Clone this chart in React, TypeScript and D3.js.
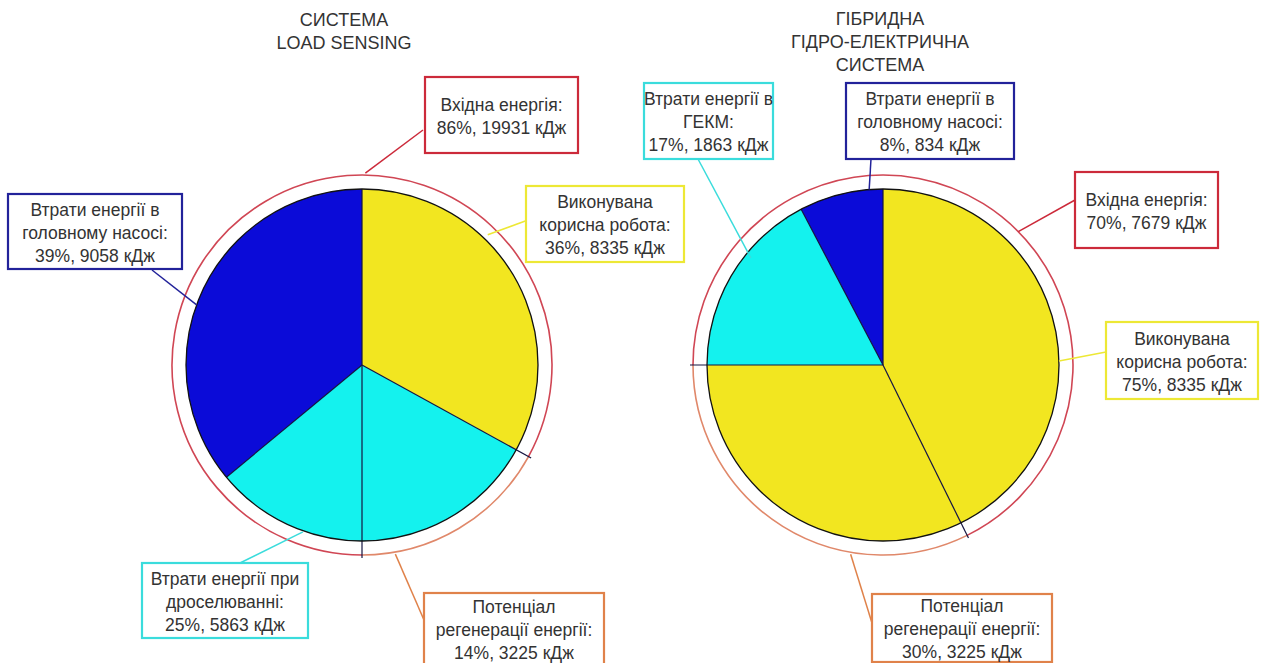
import * as d3 from "d3";

// slice order: clockwise from 12 o'clock
const leftNames = ["Виконувана корисна робота", "Потенціал регенерації", "Втрати при дроселюванні", "Втрати в головному насосі"];
const leftShares = [33, 17, 14, 36];
const leftColors = ["#F2E620", "#14F2EE", "#14F2EE", "#0B0BD8"];
const leftRegen = 1;

const rightNames = ["Виконувана корисна робота", "Потенціал регенерації", "Втрати в ГЕКМ", "Втрати в головному насосі"];
const rightShares = [42.7, 32.3, 17.3, 7.7];
const rightColors = ["#F2E620", "#F2E620", "#14F2EE", "#0B0BD8"];
const rightRegen = 1;

const leftTitle = ["СИСТЕМА", "LOAD SENSING"];
const rightTitle = ["ГІБРИДНА", "ГІДРО-ЕЛЕКТРИЧНА", "СИСТЕМА"];

const leftCallouts = [
  { lines: ["Вхідна енергія:", "86%, 19931 кДж"], color: "#CC2A3A" },
  { lines: ["Виконувана", "корисна робота:", "36%, 8335 кДж"], color: "#EDE835" },
  { lines: ["Втрати енергії в", "головному насосі:", "39%, 9058 кДж"], color: "#22229A" },
  { lines: ["Втрати енергії при", "дроселюванні:", "25%, 5863 кДж"], color: "#3ADCDC" },
  { lines: ["Потенціал", "регенерації енергії:", "14%, 3225 кДж"], color: "#E0824A" },
];
const rightCallouts = [
  { lines: ["Втрати енергії в", "ГЕКМ:", "17%, 1863 кДж"], color: "#3ADCDC" },
  { lines: ["Втрати енергії в", "головному насосі:", "8%, 834 кДж"], color: "#22229A" },
  { lines: ["Вхідна енергія:", "70%, 7679 кДж"], color: "#CC2A3A" },
  { lines: ["Виконувана", "корисна робота:", "75%, 8335 кДж"], color: "#EDE835" },
  { lines: ["Потенціал", "регенерації енергії:", "30%, 3225 кДж"], color: "#E0824A" },
];

// layout: box rect + leader (from box point to polar anchor on pie)
const leftLayout = [
  { box: [425, 77, 153, 76], from: [423, 130], ang: 1, r: 192 },
  { box: [526, 186, 158, 76], from: [528, 220], ang: 44, r: 181 },
  { box: [8, 194, 174, 75], from: [152, 270], ang: 290, r: 176 },
  { box: [142, 563, 166, 75], from: [240, 563], ang: 199.5, r: 177 },
  { box: [424, 593, 180, 72], from: [424, 620], ang: 170, r: 192 },
];
const rightLayout = [
  { box: [644, 83, 129, 76], from: [698, 159], ang: 309, r: 170 },
  { box: [846, 83, 168, 76], from: [871, 159], ang: 355.5, r: 176 },
  { box: [1075, 172, 143, 76], from: [1075, 200], ang: 45.4, r: 190 },
  { box: [1106, 322, 152, 77], from: [1106, 352], ang: 88.7, r: 176 },
  { box: [872, 594, 180, 68], from: [872, 623], ang: 189.7, r: 192 },
];

const R = 176;
const RING = 190;
const FONT = "'Liberation Sans', Arial, sans-serif";

const polar = (cx: number, cy: number, deg: number, r: number) => {
  const a = (deg * Math.PI) / 180;
  return [cx + r * Math.sin(a), cy - r * Math.cos(a)];
};

type PieProps = {
  cx: number;
  cy: number;
  names: string[];
  shares: number[];
  colors: string[];
  regen: number;
};

const Pie = ({ cx, cy, names, shares, colors, regen }: PieProps) => {
  const slices = d3
    .pie<number>()
    .sort(null)
    .value((d) => d)(shares);
  const arc = d3.arc<d3.PieArcDatum<number>>().innerRadius(0).outerRadius(R);
  const ringArc = d3.arc().innerRadius(RING).outerRadius(RING);
  const rs = slices[regen];

  // boundaries of the regeneration slice extend to the outer ring
  const bounds = slices.map((s) => s.startAngle);
  const long = new Set([rs.startAngle, rs.endAngle % (2 * Math.PI)]);

  return (
    <g transform={`translate(${cx},${cy})`}>
      <path
        d={ringArc({ innerRadius: RING, outerRadius: RING, startAngle: rs.endAngle, endAngle: rs.startAngle + 2 * Math.PI }) || ""}
        fill="none"
        stroke="#D04654"
        strokeWidth={1.6}
      />
      <path
        d={ringArc({ innerRadius: RING, outerRadius: RING, startAngle: rs.startAngle, endAngle: rs.endAngle }) || ""}
        fill="none"
        stroke="#E0886A"
        strokeWidth={1.6}
      />
      {slices.map((s, i) => (
        <path key={names[i]} d={arc(s) || ""} fill={colors[i]} stroke="none" />
      ))}
      {bounds.map((a, i) => {
        const r = long.has(a) ? RING + 3 : R;
        return (
          <line
            key={i}
            x1={0}
            y1={0}
            x2={r * Math.sin(a)}
            y2={-r * Math.cos(a)}
            stroke="#141440"
            strokeWidth={1.2}
          />
        );
      })}
      <circle r={R} fill="none" stroke="#111" strokeWidth={1.3} />
    </g>
  );
};

type Callout = { lines: string[]; color: string };
type Layout = { box: number[]; from: number[]; ang: number; r: number };

const Callouts = ({ cx, cy, items, layout }: { cx: number; cy: number; items: Callout[]; layout: Layout[] }) => (
  <g>
    {items.map((c, i) => {
      const L = layout[i];
      const [x, y, w, h] = L.box;
      const [ax, ay] = polar(cx, cy, L.ang, L.r);
      const lh = 23;
      const mid = y + h / 2 + 1;
      return (
        <g key={i}>
          <line x1={L.from[0]} y1={L.from[1]} x2={ax} y2={ay} stroke={c.color} strokeWidth={1.5} />
          <rect x={x} y={y} width={w} height={h} fill="#fff" stroke={c.color} strokeWidth={2.2} />
          {c.lines.map((t, j) => (
            <text
              key={j}
              x={x + w / 2}
              y={mid + (j - (c.lines.length - 1) / 2) * lh}
              textAnchor="middle"
              dominantBaseline="central"
              fontFamily={FONT}
              fontSize={17.5}
              fill="#333"
            >
              {t}
            </text>
          ))}
        </g>
      );
    })}
  </g>
);

const Title = ({ x, y, lines }: { x: number; y: number; lines: string[] }) => (
  <g>
    {lines.map((t, i) => (
      <text
        key={t + i}
        x={x}
        y={y + i * 23}
        textAnchor="middle"
        dominantBaseline="central"
        fontFamily={FONT}
        fontSize={18}
        fill="#333"
      >
        {t}
      </text>
    ))}
  </g>
);

export default function App() {
  const L = { cx: 362, cy: 365 };
  const Rt = { cx: 883, cy: 365 };
  return (
    <svg width={1261} height={663} style={{ position: "absolute", left: 0, top: 0, background: "#fff" }}>
      <Title x={344} y={20} lines={leftTitle} />
      <Title x={880} y={19} lines={rightTitle} />
      <Pie {...L} names={leftNames} shares={leftShares} colors={leftColors} regen={leftRegen} />
      <Pie {...Rt} names={rightNames} shares={rightShares} colors={rightColors} regen={rightRegen} />
      <Callouts {...L} items={leftCallouts} layout={leftLayout} />
      <Callouts {...Rt} items={rightCallouts} layout={rightLayout} />
    </svg>
  );
}
